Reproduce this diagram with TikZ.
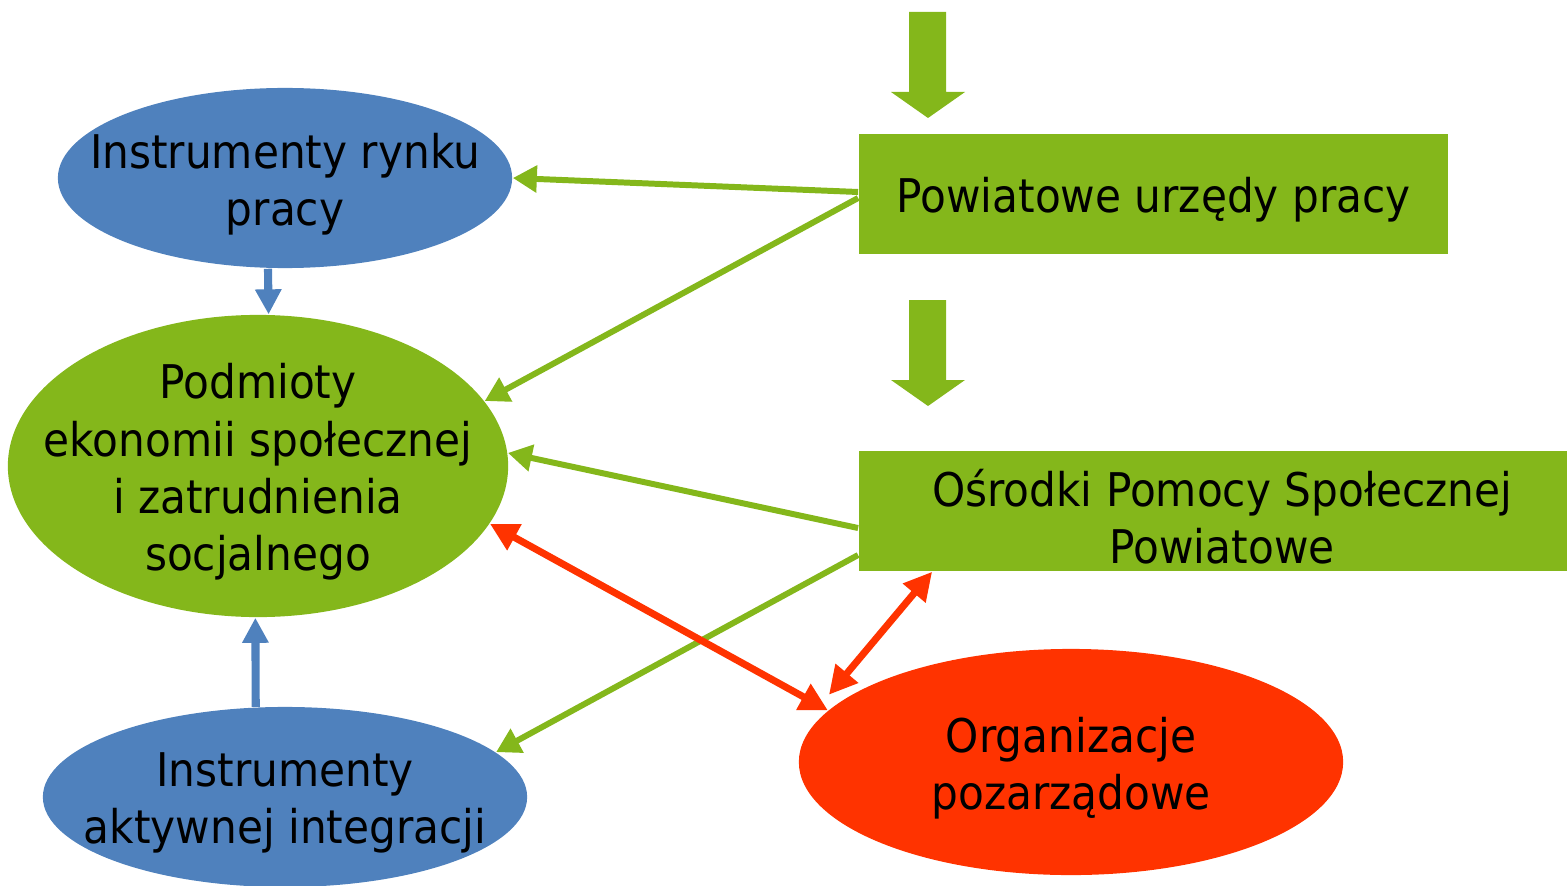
\documentclass[tikz,border=0pt]{standalone}
\usepackage{fontspec}
\setmainfont{DejaVu Sans}[FakeStretch=0.91]
\usetikzlibrary{shapes.geometric,arrows.meta}
\definecolor{kgreen}{HTML}{84B71B}
\definecolor{kblue}{HTML}{4F81BD}
\definecolor{kred}{HTML}{FF3300}
\tikzset{oval/.style={ellipse, draw=none, inner sep=0pt},
	box/.style={rectangle, fill=kgreen, inner sep=0pt, align=center},
	txt/.style={align=center, font=\fontsize{13.2}{16.3}\selectfont, yshift=-0.06cm},
	greenarrow/.style={draw=kgreen, line width=1.7pt, -{Triangle[length=0.24cm,width=0.26cm]}},
	bluearrow/.style={draw=kblue, line width=2.3pt, -{Triangle[length=0.25cm,width=0.25cm]}},
	redarrow/.style={draw=kred, line width=2pt, {Triangle[length=0.28cm,width=0.28cm]}-{Triangle[length=0.28cm,width=0.28cm]}},
	bigarrow/.style={fill=kgreen, draw=none}}

\begin{document}
\begin{tikzpicture}[x=0.01cm,y=-0.01cm]
		\useasboundingbox (0,0) rectangle (1567,885); %whole picture
		% the ovals
		\node[oval, fill=kblue, minimum width=4.54cm, minimum height=1.80cm, label={[txt]center:Instrumenty rynku\\pracy}] (irp) at (285,178) {};
		\node[oval, fill=kgreen, minimum width=5.00cm, minimum height=3.02cm, label={[txt]center:Podmioty\\ekonomii społecznej\\i zatrudnienia\\socjalnego}] (pes) at (258,466) {};
		\node[oval, fill=kblue, minimum width=4.84cm, minimum height=1.80cm, label={[txt]center:Instrumenty\\aktywnej integracji}] (iai) at (285,797) {};
		\node[oval, fill=kred, minimum width=5.44cm, minimum height=2.26cm, label={[txt]center:Organizacje\\pozarządowe}] (org) at (1071,762) {};
		% the boxes
		\node[box, minimum width=5.89cm, minimum height=1.20cm, label={[txt]center:Powiatowe urzędy pracy}] (pup) at (1153.5,194) {};
		\node[box, minimum width=7.08cm, minimum height=1.20cm, label={[txt]center:\hspace*{0.18cm}Ośrodki Pomocy Społecznej\\\hspace*{0.18cm}Powiatowe}] (ops) at (1213,511) {};
		% block arrows
		\foreach \y in {12,300}
		\fill[bigarrow] (909,\y) -- (946,\y) -- (946,\y+80) -- (965,\y+80) -- (928,\y+106) -- (891,\y+80) -- (909,\y+80) -- cycle; %Puts a big arrow
		% connectors
		\draw[greenarrow] ([yshift=0.02cm]pup.west) -- (irp.east);
		\draw[greenarrow] ([yshift=-0.04cm]pup.west) -- (pes.16);
		\draw[greenarrow] ([yshift=-0.17cm]ops.west) -- (pes.3);
		\draw[greenarrow] ([yshift=-0.44cm]ops.west) -- (iai.12);
		\draw[bluearrow] ([xshift=-0.17cm]irp.south) -- (pes.86);
		\draw[bluearrow] (iai.108) -- (pes.-91);
		\draw[redarrow] (pes.-14) -- (org.168);
		\draw[redarrow] ([xshift=0.74cm]ops.south west) -- ([xshift=-0.22cm]org.163);
	\end{tikzpicture}
\end{document}
